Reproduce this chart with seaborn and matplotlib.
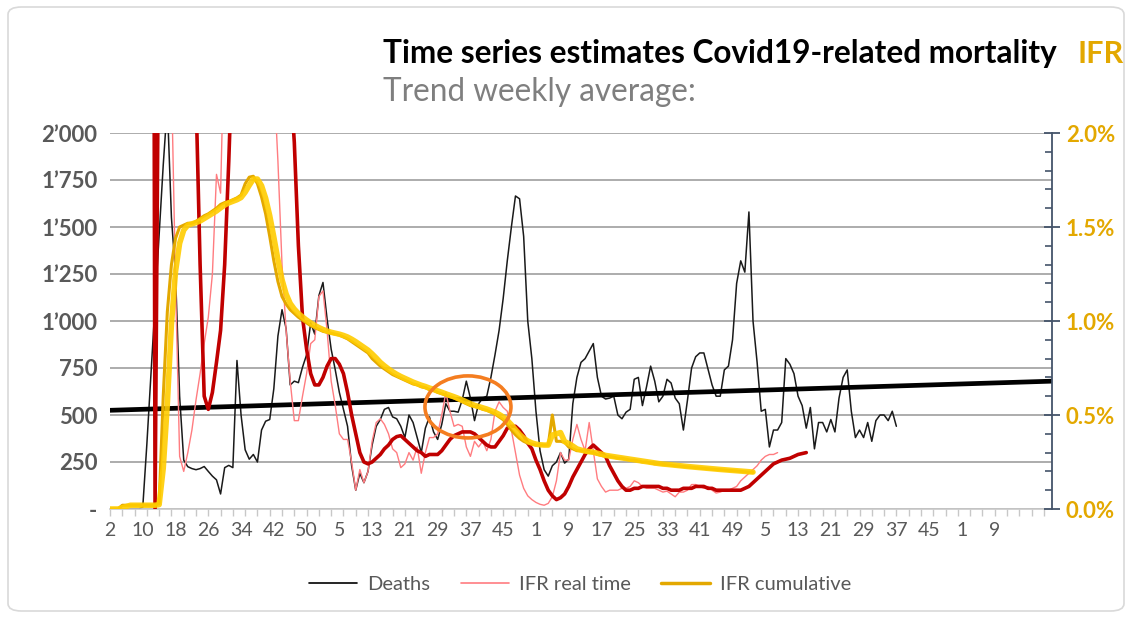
import numpy as np
import pandas as pd
import matplotlib
matplotlib.use('Agg')
import matplotlib.pyplot as plt
import seaborn as sns
from matplotlib.patches import Ellipse, FancyBboxPatch
from matplotlib.ticker import FuncFormatter, MultipleLocator, FixedLocator
from matplotlib.lines import Line2D

# ISO week numbers shown on the axis (every 8th week, 2020 -> 2024)
week_labels = ['2', '10', '18', '26', '34', '42', '50', '5', '13', '21', '29', '37', '45',
               '1', '9', '17', '25', '33', '41', '49', '5', '13', '21', '29', '37', '45', '1', '9']

# weekly deaths, starting at week 2 of 2020
deaths = [0, 0, 0, 0, 0, 0, 0, 0, 10, 345,
          720, 1090, 1460, 1830, 2150, 1550, 1250, 600, 260, 225,
          215, 209, 215, 226, 200, 175, 155, 80, 220, 232,
          220, 790, 500, 315, 265, 290, 250, 420, 467, 476,
          640, 920, 1060, 960, 660, 680, 672, 754, 820, 990,
          930, 1135, 1205, 1011, 850, 740, 620, 530, 440, 230,
          100, 190, 140, 200, 340, 440, 476, 530, 540, 490,
          480, 440, 380, 500, 460, 380, 300, 430, 490, 410,
          370, 450, 560, 520, 520, 515, 580, 680, 590, 470,
          560, 590, 600, 700, 820, 950, 1120, 1320, 1500, 1665,
          1650, 1450, 1000, 800, 520, 310, 209, 175, 230, 250,
          300, 244, 265, 560, 700, 780, 800, 840, 880, 700,
          600, 585, 590, 600, 500, 480, 515, 530, 690, 700,
          550, 650, 760, 680, 570, 600, 690, 670, 590, 560,
          420, 580, 750, 810, 830, 830, 745, 660, 600, 600,
          740, 760, 900, 1200, 1320, 1260, 1580, 1000, 780, 520,
          530, 330, 420, 420, 460, 800, 770, 720, 600, 550,
          430, 540, 320, 460, 460, 410, 476, 410, 590, 700,
          740, 520, 380, 420, 380, 460, 360, 470, 500, 500,
          470, 520, 440]

# linear trend of deaths, at first and last week of the axis
trend_weeks = [0, 230]
trend_deaths = [525, 680]

# IFR real time (%), starts at week index 15
ifr_real_start = 15
ifr_real = [2.3, 1.2, 0.28, 0.20, 0.30,
            0.42, 0.58, 0.72, 0.88, 1.02, 1.25, 1.78, 1.68, 2.6, 3.2,
            3.8, 4.4, 4.6, 4.2, 3.9, 3.6, 3.4, 3.0, 2.8, 2.6,
            2.3, 1.85, 1.3, 0.95, 0.68, 0.47, 0.47, 0.60, 0.72, 0.88,
            0.90, 1.13, 1.16, 0.95, 0.68, 0.55, 0.40, 0.37, 0.37, 0.25,
            0.10, 0.21, 0.14, 0.20, 0.36, 0.46, 0.48, 0.45, 0.40, 0.32,
            0.30, 0.22, 0.24, 0.30, 0.26, 0.33, 0.19, 0.30, 0.38, 0.38,
            0.40, 0.50, 0.62, 0.52, 0.44, 0.45, 0.44, 0.33, 0.28, 0.36,
            0.33, 0.36, 0.31, 0.37, 0.52, 0.57, 0.54, 0.52, 0.42, 0.30,
            0.18, 0.11, 0.07, 0.05, 0.035, 0.025, 0.02, 0.03, 0.065, 0.15,
            0.30, 0.26, 0.26, 0.37, 0.45, 0.37, 0.31, 0.46, 0.31, 0.16,
            0.12, 0.09, 0.10, 0.10, 0.10, 0.11, 0.11, 0.12, 0.15, 0.14,
            0.12, 0.11, 0.11, 0.11, 0.10, 0.09, 0.095, 0.08, 0.065, 0.09,
            0.09, 0.10, 0.13, 0.13, 0.12, 0.11, 0.12, 0.10, 0.085, 0.09,
            0.10, 0.10, 0.11, 0.12, 0.15, 0.17, 0.19, 0.21, 0.23, 0.26,
            0.28, 0.29, 0.29, 0.30]

# smoothed IFR real time (%), starts at week index 10
ifr_smooth_start = 10
ifr_smooth = [10.0, 0.0, 3.0, 4.5, 5.5, 6.0, 5.5, 5.0, 4.2, 3.5,
              2.8, 2.2, 1.3, 0.6, 0.53, 0.62, 0.78, 0.95, 1.3, 1.85,
              2.5, 3.5, 4.5, 5.5, 6.0, 6.2, 6.0, 5.6, 5.0, 4.5,
              4.0, 3.5, 3.0, 2.6, 2.3, 1.95, 1.4, 1.02, 0.85, 0.72,
              0.66, 0.66, 0.70, 0.76, 0.80, 0.80, 0.77, 0.72, 0.62, 0.50,
              0.40, 0.30, 0.25, 0.24, 0.25, 0.27, 0.29, 0.32, 0.34, 0.37,
              0.385, 0.39, 0.37, 0.35, 0.33, 0.31, 0.30, 0.28, 0.29, 0.29,
              0.29, 0.31, 0.34, 0.37, 0.39, 0.40, 0.41, 0.41, 0.41, 0.40,
              0.38, 0.36, 0.34, 0.33, 0.33, 0.36, 0.39, 0.43, 0.44, 0.44,
              0.42, 0.39, 0.35, 0.32, 0.26, 0.21, 0.15, 0.10, 0.07, 0.05,
              0.06, 0.08, 0.12, 0.17, 0.21, 0.25, 0.29, 0.32, 0.34, 0.32,
              0.30, 0.28, 0.23, 0.19, 0.15, 0.12, 0.10, 0.10, 0.11, 0.11,
              0.12, 0.12, 0.12, 0.12, 0.12, 0.11, 0.11, 0.10, 0.10, 0.10,
              0.11, 0.11, 0.11, 0.12, 0.12, 0.12, 0.11, 0.11, 0.10, 0.10,
              0.10, 0.10, 0.10, 0.10, 0.10, 0.11, 0.12, 0.14, 0.16, 0.18,
              0.20, 0.22, 0.24, 0.25, 0.26, 0.265, 0.27, 0.28, 0.29, 0.295, 0.30]

# IFR cumulative (%), from week index 0
ifr_cum = [0, 0, 0, 0.02, 0.02, 0.02, 0.02, 0.02, 0.02, 0.02,
           0.02, 0.02, 0.03, 0.60, 1.05, 1.30, 1.44, 1.50, 1.51, 1.52,
           1.52, 1.53, 1.545, 1.56, 1.57, 1.585, 1.60, 1.62, 1.63, 1.635,
           1.645, 1.655, 1.67, 1.73, 1.765, 1.77, 1.73, 1.66, 1.57, 1.45,
           1.32, 1.21, 1.13, 1.09, 1.06, 1.04, 1.02, 1.005, 0.99, 0.975,
           0.965, 0.955, 0.945, 0.94, 0.935, 0.93, 0.925, 0.915, 0.905, 0.89,
           0.875, 0.86, 0.845, 0.83, 0.80, 0.78, 0.76, 0.745, 0.73, 0.715,
           0.705, 0.695, 0.685, 0.675, 0.665, 0.66, 0.65, 0.645, 0.635, 0.63,
           0.62, 0.613, 0.605, 0.597, 0.59, 0.58, 0.57, 0.56, 0.55, 0.545,
           0.54, 0.53, 0.525, 0.515, 0.505, 0.49, 0.475, 0.45, 0.42, 0.395,
           0.375, 0.36, 0.35, 0.345, 0.34, 0.34, 0.34, 0.34, 0.50, 0.36,
           0.36, 0.355, 0.33, 0.32, 0.31, 0.31, 0.305, 0.30, 0.30, 0.29,
           0.285, 0.28, 0.28, 0.275, 0.27, 0.27, 0.265, 0.26, 0.26, 0.255,
           0.25, 0.25, 0.245, 0.24, 0.24, 0.237, 0.235, 0.233, 0.23, 0.228,
           0.226, 0.224, 0.222, 0.22, 0.218, 0.216, 0.214, 0.212, 0.21, 0.209,
           0.207, 0.205, 0.204, 0.202, 0.20, 0.198, 0.196, 0.195]

sns.set_theme(style='white')
plt.rcParams['font.family'] = ['Lato', 'DejaVu Sans']

GREY_TXT = '#595959'
GOLD = '#E3A800'
GOLD_BRIGHT = '#FFCC00'
PINK = '#FF7C80'
DARK_RED = '#C00000'

df_d = pd.DataFrame({'week': np.arange(len(deaths)), 'deaths': deaths})
df_real = pd.DataFrame({'week': np.arange(len(ifr_real)) + ifr_real_start, 'ifr': ifr_real})
df_smooth = pd.DataFrame({'week': np.arange(len(ifr_smooth)) + ifr_smooth_start, 'ifr': ifr_smooth})
df_cum = pd.DataFrame({'week': np.arange(len(ifr_cum)), 'ifr': ifr_cum})
# moving-average trendline of the cumulative IFR
df_cum['trend'] = df_cum['ifr'].rolling(3, min_periods=1).mean()

fig = plt.figure(figsize=(11.3, 6.17), dpi=100)
ax = fig.add_axes([110/1130, 1-509/617, (1052-110)/1130, (509-133)/617])
ax2 = ax.twinx()

# left axis: deaths
sns.lineplot(data=df_d, x='week', y='deaths', ax=ax, color='#1A1A1A', lw=1.1)
sns.lineplot(x=trend_weeks, y=trend_deaths, ax=ax, color='black', lw=3.4)
ax.set_xlim(0, 230)
ax.set_ylim(0, 2000)
ax.set_yticks(np.arange(0, 2001, 250))
ax.yaxis.set_major_formatter(FuncFormatter(
    lambda v, p: '-' if v == 0 else f'{v:,.0f}'.replace(',', '\u2019')))
ax.grid(axis='y', color='#A6A6A6', lw=1.3)
ax.grid(axis='x', visible=False)
ax.set_xlabel('')
ax.set_ylabel('')
for s in ['left', 'top', 'right']:
    ax.spines[s].set_visible(False)
ax.spines['bottom'].set_color('#C8C8C8')
ax.spines['bottom'].set_linewidth(1.2)
ax.tick_params(axis='y', length=0, pad=9, labelsize=16, labelcolor=GREY_TXT)
for t in ax.get_yticklabels():
    t.set_fontweight('bold')

ax.xaxis.set_major_locator(FixedLocator(np.arange(len(week_labels)) * 8))
ax.set_xticklabels(week_labels)
ax.xaxis.set_minor_locator(MultipleLocator(3))
ax.xaxis.remove_overlapping_locs = False
ax.tick_params(axis='x', which='major', length=0, pad=9, labelsize=14, labelcolor=GREY_TXT)
ax.tick_params(axis='x', which='minor', bottom=True, length=5, width=1, color='#C8C8C8')

# right axis: IFR
sns.lineplot(data=df_real, x='week', y='ifr', ax=ax2, color=PINK, lw=1.0)
sns.lineplot(data=df_smooth, x='week', y='ifr', ax=ax2, color=DARK_RED, lw=2.6)
sns.lineplot(data=df_cum, x='week', y='ifr', ax=ax2, color=GOLD, lw=2.2)
sns.lineplot(data=df_cum, x='week', y='trend', ax=ax2, color=GOLD_BRIGHT, lw=4.0, alpha=0.9)
ax2.set_ylim(0, 2.0)
ax2.set_xlim(0, 230)
ax2.set_xlabel('')
ax2.set_ylabel('')
ax2.grid(False)
ax2.yaxis.set_major_locator(MultipleLocator(0.5))
ax2.yaxis.set_minor_locator(MultipleLocator(0.1))
ax2.yaxis.set_major_formatter(FuncFormatter(lambda v, p: f'{v:.1f}%'))
for s in ['left', 'top', 'bottom']:
    ax2.spines[s].set_visible(False)
ax2.spines['right'].set_color('#44546A')
ax2.spines['right'].set_linewidth(1.3)
ax2.tick_params(axis='y', which='major', right=True, direction='inout', length=12, width=1.3,
                color='#44546A', pad=4, labelsize=16, labelcolor=GOLD)
ax2.tick_params(axis='y', which='minor', right=True, direction='in', length=5, width=1.2,
                color='#44546A')
for t in ax2.get_yticklabels():
    t.set_fontweight('bold')

# orange highlight ring
ring = Ellipse((87.4, 543), width=21.0, height=330, transform=ax.transData,
               fill=False, ec='#F47D20', lw=2.6, zorder=10)
ax2.add_patch(ring)

# titles
fig.text(383/1130, 1-63/617, 'Time series estimates Covid19-related mortality',
         fontsize=22.7, fontweight='bold', color='black', ha='left', va='baseline')
fig.text(1077/1130, 1-63/617, 'IFR', fontsize=22, fontweight='bold', color=GOLD,
         ha='left', va='baseline')
fig.text(383/1130, 1-101/617, 'Trend weekly average:', fontsize=22.7, color='#7F7F7F',
         ha='left', va='baseline')

# legend
handles = [Line2D([], [], color='black', lw=1.2),
           Line2D([], [], color=PINK, lw=1.2),
           Line2D([], [], color=GOLD, lw=2.5)]
leg = fig.legend(handles, ['Deaths', 'IFR real time', 'IFR cumulative'],
                 loc='center', bbox_to_anchor=(580/1130, 1-584/617), ncol=3,
                 frameon=False, fontsize=14.5, handlelength=2.4, columnspacing=1.5,
                 handletextpad=0.5)
for t in leg.get_texts():
    t.set_color(GREY_TXT)

# outer rounded frame
frame = FancyBboxPatch((8/1130, 6/617), 1116/1130, 604/617,
                       boxstyle='round,pad=0,rounding_size=0.012',
                       transform=fig.transFigure, fill=False, ec='#D9D9D9', lw=1.2)
fig.patches.append(frame)

fig.savefig('out.png', dpi=100, facecolor='white')
